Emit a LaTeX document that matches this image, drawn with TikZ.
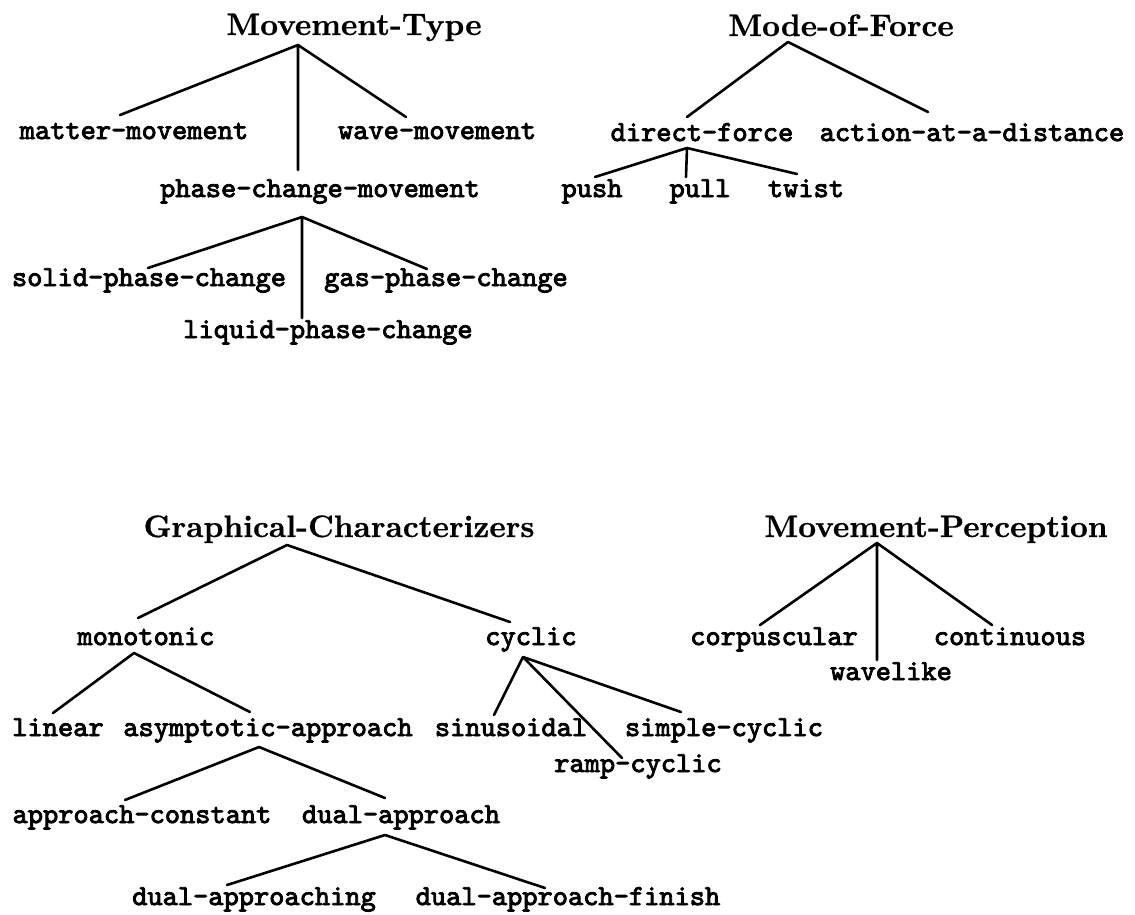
\documentclass[tikz,border=0pt]{standalone}
\usepackage{fontspec}
\newfontfamily\ttbold{lmmono10-regular.otf}[FakeBold=3]
\newfontfamily\rmbold{lmroman10-bold.otf}[FakeBold=0.6]
\begin{document}
\begin{tikzpicture}[x=1pt,y=-1pt,
  ttl/.style={font=\fontsize{31}{37}\selectfont\rmbold, anchor=base, inner sep=0pt},
  lbl/.style={font=\fontsize{29}{34}\selectfont\ttbold, anchor=base, inner sep=0pt},
  conn/.style={line width=2.6pt, line cap=round}]
\useasboundingbox[fill=white] (0,0) rectangle (1135,914);
% ---- Movement-Type
\node[ttl] (mt) at (354,35) {Movement-Type};
\coordinate (mtA) at (298,45);
\node[lbl] (mm) at (134,139) {matter-movement};
\coordinate (mmT) at (120,115);
\node[lbl] (wm) at (437,139) {wave-movement};
\coordinate (wmT) at (406,117);
\node[lbl] (pcm) at (320,197) {phase-change-movement};
\coordinate (pcmT) at (298,170);
\coordinate (pcmA) at (302,217);
\node[lbl] (spc) at (149,286) {solid-phase-change};
\coordinate (spcT) at (148,268);
\node[lbl] (gpc) at (446,286) {gas-phase-change};
\coordinate (gpcT) at (427,269);
\node[lbl] (lpc) at (328,338) {liquid-phase-change};
\coordinate (lpcT) at (302,318);
\draw[conn] (mtA) -- (mmT) (mtA) -- (wmT) (mtA) -- (pcmT);
\draw[conn] (pcmA) -- (spcT) (pcmA) -- (gpcT) (pcmA) -- (lpcT);
% ---- Mode-of-Force
\node[ttl] (mof) at (841,36) {Mode-of-Force};
\coordinate (mofA) at (788,42);
\node[lbl] (df) at (702,141) {direct-force};
\coordinate (dfT) at (687,117);
\node[lbl] (aad) at (972,141) {action-at-a-distance};
\coordinate (aadT) at (928,112);
\coordinate (dfA) at (687,148);
\node[lbl] (push) at (592,197) {push};
\coordinate (pushT) at (595,177);
\node[lbl] (pull) at (700,197) {pull};
\coordinate (pullT) at (686,177);
\node[lbl] (twist) at (806,197) {twist};
\coordinate (twistT) at (797,174);
\draw[conn] (mofA) -- (dfT) (mofA) -- (aadT);
\draw[conn] (dfA) -- (pushT) (dfA) -- (pullT) (dfA) -- (twistT);
% ---- Graphical-Characterizers
\node[ttl] (gc) at (339,537) {Graphical-Characterizers};
\coordinate (gcA) at (287,545);
\node[lbl] (mono) at (146,645) {monotonic};
\coordinate (monoT) at (138,618);
\node[lbl] (cyc) at (531,645) {cyclic};
\coordinate (cycT) at (510,622);
\coordinate (monoA) at (134,653);
\node[lbl] (lin) at (58,736) {linear};
\coordinate (linT) at (53,713);
\node[lbl] (asy) at (268,736) {asymptotic-approach};
\coordinate (asyT) at (250,712);
\coordinate (asyA) at (259,747);
\node[lbl] (apc) at (142,823) {approach-constant};
\coordinate (apcT) at (125,800);
\node[lbl] (da) at (401,823) {dual-approach};
\coordinate (daT) at (385,798);
\coordinate (daA) at (385,835);
\node[lbl] (dag) at (254,905) {dual-approaching};
\coordinate (dagT) at (227,885);
\node[lbl] (daf) at (568,905) {dual-approach-finish};
\coordinate (dafT) at (545,888);
\coordinate (cycA) at (523,657);
\node[lbl] (sin) at (511,736) {sinusoidal};
\coordinate (sinT) at (494,715);
\node[lbl] (rc) at (638,772) {ramp-cyclic};
\coordinate (rcT) at (622,758);
\node[lbl] (sc) at (724,736) {simple-cyclic};
\coordinate (scT) at (681,712);
\draw[conn] (gcA) -- (monoT) (gcA) -- (cycT);
\draw[conn] (monoA) -- (linT) (monoA) -- (asyT);
\draw[conn] (asyA) -- (apcT) (asyA) -- (daT);
\draw[conn] (daA) -- (dagT) (daA) -- (dafT);
\draw[conn] (cycA) -- (sinT) (cycA) -- (rcT) (cycA) -- (scT);
% ---- Movement-Perception
\node[ttl] (mp) at (936,537) {Movement-Perception};
\coordinate (mpA) at (877,543);
\node[lbl] (corp) at (774,645) {corpuscular};
\coordinate (corpT) at (760,625);
\node[lbl] (cont) at (1010,645) {continuous};
\coordinate (contT) at (992,625);
\node[lbl] (wl) at (891,680) {wavelike};
\coordinate (wlT) at (877,660);
\draw[conn] (mpA) -- (corpT) (mpA) -- (contT) (mpA) -- (wlT);
\end{tikzpicture}
\end{document}
